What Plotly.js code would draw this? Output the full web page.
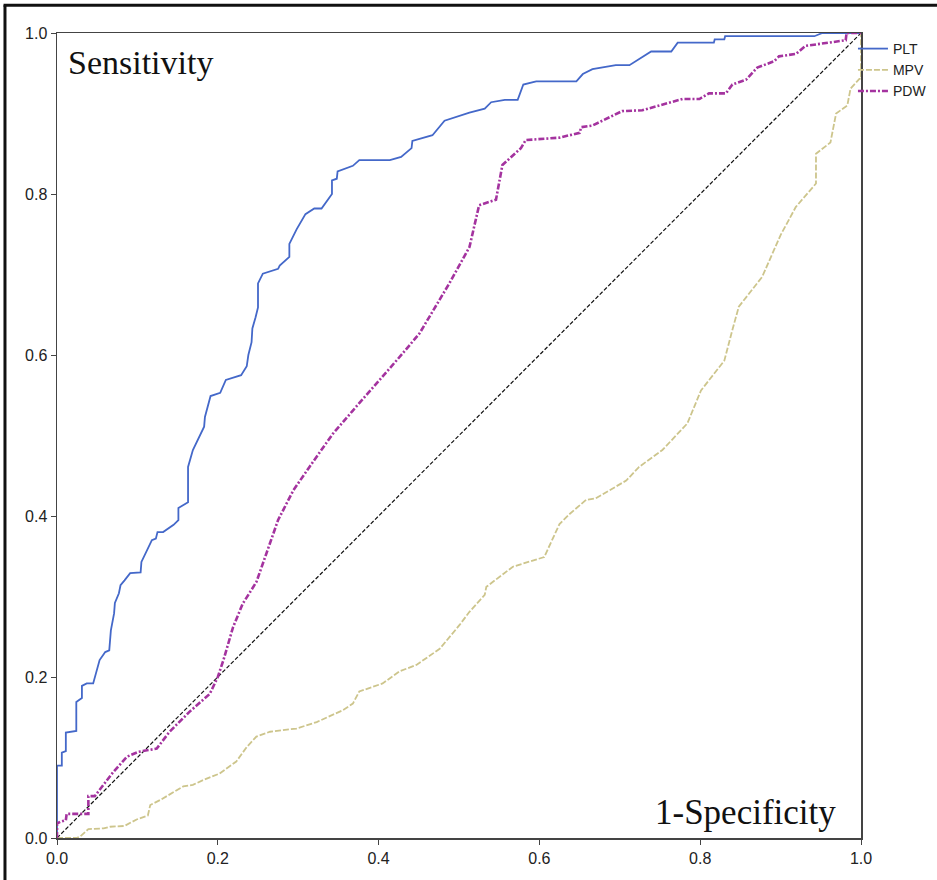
<!DOCTYPE html>
<html>
<head>
<meta charset="utf-8">
<script src="https://cdn.plot.ly/plotly-3.0.1.min.js"></script>
<style>html,body{margin:0;padding:0;background:#fff;}#chart{width:937px;height:880px;}</style>
</head>
<body>
<div id="chart"></div>
<script>
// ROC curve data
const seriesNames = ["PLT", "MPV", "PDW"];
const xTicks = [0.0, 0.2, 0.4, 0.6, 0.8, 1.0];
const yTicks = [0.0, 0.2, 0.4, 0.6, 0.8, 1.0];

const pltX = [0, 0, 0.006, 0.006, 0.011, 0.011, 0.024, 0.024, 0.031, 0.031,
  0.037, 0.045, 0.053, 0.060, 0.065, 0.067, 0.071, 0.072, 0.077, 0.079,
  0.084, 0.091, 0.104, 0.105, 0.118, 0.123, 0.125, 0.132, 0.145, 0.151,
  0.151, 0.163, 0.163, 0.169, 0.183, 0.184, 0.191, 0.203, 0.210, 0.229,
  0.236, 0.238, 0.242, 0.243, 0.247, 0.250, 0.250, 0.256, 0.275, 0.277,
  0.289, 0.289, 0.298, 0.309, 0.320, 0.329, 0.342, 0.342, 0.348, 0.349,
  0.368, 0.376, 0.414, 0.428, 0.441, 0.442, 0.467, 0.482, 0.513, 0.532,
  0.540, 0.557, 0.573, 0.580, 0.596, 0.646, 0.654, 0.666, 0.695, 0.712,
  0.739, 0.764, 0.772, 0.817, 0.818, 0.830, 0.831, 0.942, 0.952, 1.0];
const pltY = [0, 0.090, 0.090, 0.106, 0.108, 0.131, 0.133, 0.169, 0.174, 0.189,
  0.192, 0.192, 0.221, 0.231, 0.233, 0.258, 0.279, 0.292, 0.304, 0.314,
  0.320, 0.329, 0.330, 0.343, 0.370, 0.372, 0.380, 0.380, 0.389, 0.395,
  0.410, 0.417, 0.461, 0.482, 0.511, 0.523, 0.549, 0.553, 0.569, 0.575,
  0.586, 0.600, 0.616, 0.633, 0.647, 0.659, 0.689, 0.701, 0.707, 0.711,
  0.722, 0.738, 0.756, 0.775, 0.782, 0.782, 0.800, 0.817, 0.819, 0.828,
  0.835, 0.842, 0.842, 0.846, 0.857, 0.866, 0.873, 0.891, 0.901, 0.906,
  0.914, 0.917, 0.917, 0.936, 0.940, 0.940, 0.949, 0.955, 0.960, 0.960,
  0.977, 0.977, 0.988, 0.988, 0.992, 0.992, 0.996, 0.996, 1.0, 1.0];

const mpvX = [0, 0.024, 0.029, 0.039, 0.058, 0.066, 0.084, 0.099, 0.113, 0.116,
  0.128, 0.157, 0.169, 0.182, 0.202, 0.223, 0.236, 0.248, 0.265, 0.298,
  0.323, 0.356, 0.368, 0.376, 0.405, 0.426, 0.447, 0.476, 0.501, 0.513,
  0.532, 0.534, 0.567, 0.606, 0.625, 0.637, 0.658, 0.670, 0.708, 0.724,
  0.753, 0.784, 0.801, 0.830, 0.840, 0.848, 0.877, 0.900, 0.919, 0.944,
  0.944, 0.962, 0.969, 0.983, 0.987, 0.998, 1.0, 1.0];
const mpvY = [0, 0, 0.002, 0.011, 0.012, 0.014, 0.015, 0.023, 0.028, 0.041,
  0.047, 0.064, 0.066, 0.072, 0.080, 0.095, 0.113, 0.126, 0.132, 0.136,
  0.144, 0.159, 0.167, 0.182, 0.192, 0.207, 0.215, 0.235, 0.265, 0.281,
  0.302, 0.312, 0.337, 0.349, 0.390, 0.402, 0.420, 0.422, 0.444, 0.461,
  0.482, 0.515, 0.556, 0.593, 0.631, 0.660, 0.697, 0.749, 0.784, 0.813,
  0.850, 0.864, 0.900, 0.910, 0.931, 0.943, 0.943, 1.0];

const pdwX = [0, 0, 0.004, 0.011, 0.012, 0.039, 0.039, 0.047, 0.070, 0.087,
  0.101, 0.124, 0.140, 0.165, 0.190, 0.200, 0.207, 0.219, 0.231, 0.248,
  0.275, 0.294, 0.314, 0.343, 0.368, 0.405, 0.430, 0.451, 0.476, 0.488,
  0.513, 0.525, 0.546, 0.550, 0.554, 0.577, 0.583, 0.625, 0.650, 0.652,
  0.666, 0.703, 0.728, 0.778, 0.799, 0.811, 0.832, 0.840, 0.857, 0.871,
  0.892, 0.898, 0.919, 0.931, 0.952, 0.981, 0.982, 1.0];
const pdwY = [0, 0.018, 0.020, 0.022, 0.030, 0.030, 0.052, 0.052, 0.082, 0.101,
  0.107, 0.111, 0.132, 0.157, 0.179, 0.200, 0.221, 0.262, 0.291, 0.318,
  0.395, 0.432, 0.461, 0.502, 0.531, 0.573, 0.602, 0.627, 0.668, 0.689,
  0.734, 0.786, 0.793, 0.813, 0.836, 0.857, 0.867, 0.870, 0.876, 0.883,
  0.885, 0.903, 0.904, 0.918, 0.918, 0.925, 0.925, 0.936, 0.942, 0.957,
  0.965, 0.971, 0.974, 0.984, 0.987, 0.991, 1.0, 1.0];

const refX = [0, 1];
const refY = [0, 1];

const colors = {PLT: "#4468c9", MPV: "#cdc58c", PDW: "#a4339f", ref: "#111111"};

const traces = [
  {x: refX, y: refY, mode: "lines", showlegend: false, hoverinfo: "skip",
   line: {color: colors.ref, width: 1.2, dash: "4px,2px"}},
  {x: pltX, y: pltY, mode: "lines", name: seriesNames[0],
   line: {color: colors.PLT, width: 1.8}},
  {x: mpvX, y: mpvY, mode: "lines", name: seriesNames[1],
   line: {color: colors.MPV, width: 1.8, dash: "6px,2px"}},
  {x: pdwX, y: pdwY, mode: "lines", name: seriesNames[2],
   line: {color: colors.PDW, width: 2.6, dash: "6px,2px,2px,2px"}}
];

const axisCommon = {
  range: [0, 1], showgrid: false, zeroline: false,
  showline: true, linecolor: "#444", linewidth: 1.5, mirror: true,
  ticks: "outside", ticklen: 5, tickcolor: "#444", tickwidth: 1,
  tickfont: {family: "Liberation Sans, Arial, sans-serif", size: 16, color: "#222"},
  fixedrange: true
};

const layout = {
  width: 937, height: 880,
  margin: {l: 57, r: 76, t: 33, b: 42, autoexpand: false},
  paper_bgcolor: "#ffffff", plot_bgcolor: "#ffffff",
  xaxis: Object.assign({}, axisCommon, {tickvals: xTicks, ticktext: xTicks.map(v => v.toFixed(1))}),
  yaxis: Object.assign({}, axisCommon, {tickvals: yTicks, ticktext: yTicks.map(v => v.toFixed(1))}),
  showlegend: true,
  legend: {
    x: 0.99, xanchor: "left", y: 1.0, yanchor: "top",
    bgcolor: "rgba(0,0,0,0)", borderwidth: 0,
    font: {family: "Liberation Sans, Arial, sans-serif", size: 14, color: "#222"},
    itemwidth: 30, tracegroupgap: 0
  },
  annotations: [
    {text: "Sensitivity", xref: "paper", yref: "paper", x: 0.011, y: 0.963,
     xanchor: "left", yanchor: "middle", showarrow: false,
     font: {family: "Liberation Serif, Times New Roman, serif", size: 34, color: "#111"}},
    {text: "1-Specificity", xref: "paper", yref: "paper", x: 0.971, y: 0.032,
     xanchor: "right", yanchor: "middle", showarrow: false,
     font: {family: "Liberation Serif, Times New Roman, serif", size: 35, color: "#111"}}
  ],
  shapes: [
    {type: "line", xref: "paper", yref: "paper", x0: -0.0647, x1: -0.0647, y0: -0.2, y1: 1.0345,
     line: {color: "#111", width: 3}},
    {type: "line", xref: "paper", yref: "paper", x0: -0.0665, x1: 1.2, y0: 1.0345, y1: 1.0345,
     line: {color: "#111", width: 3}}
  ]
};

Plotly.newPlot("chart", traces, layout, {staticPlot: true, displayModeBar: false});
</script>
</body>
</html>
